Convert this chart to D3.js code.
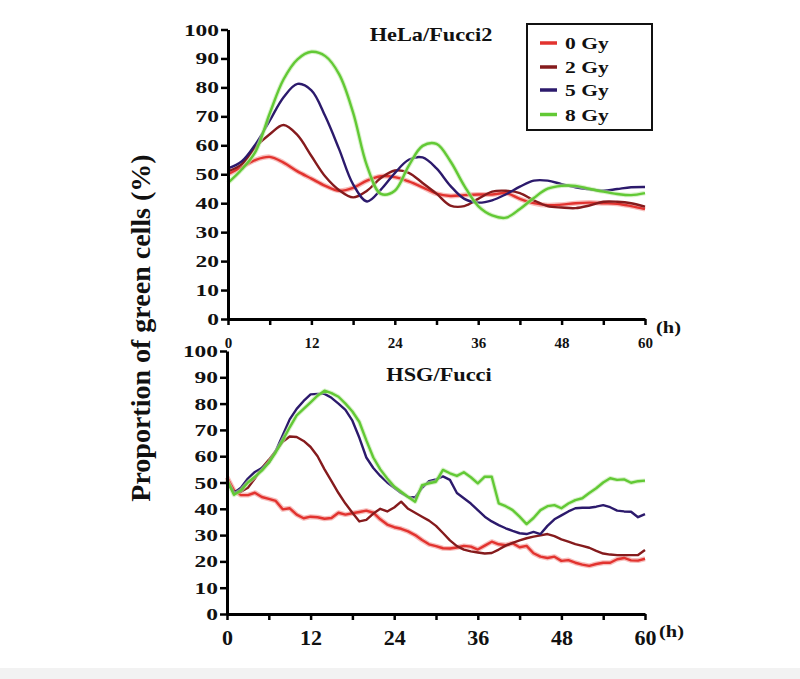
<!DOCTYPE html>
<html><head><meta charset="utf-8">
<script src="https://cdn.jsdelivr.net/npm/d3@7"></script>
<style>
body{margin:0;background:#fff}
svg{display:block}
text{font-family:"Liberation Serif","Times New Roman",serif;font-weight:bold;fill:#111}
</style>
</head><body>
<svg id="c" width="800" height="679"></svg>
<script>
// ---------- data ----------
const seriesNames = ["0 Gy", "2 Gy", "5 Gy", "8 Gy"];
const seriesColors = ["#e2332f", "#851b1d", "#2c1a6c", "#62c935"];
const yTicks = [0, 10, 20, 30, 40, 50, 60, 70, 80, 90, 100];
const xTicks = [0, 6, 12, 18, 24, 30, 36, 42, 48, 54, 60];
const xTickLabels = ["0", "", "12", "", "24", "", "36", "", "48", "", "60"];

// HeLa/Fucci2 (every 2 h)
const hoursTop = [0,2,4,6,8,10,12,14,16,18,20,22,24,26,28,30,32,34,36,38,40,42,44,46,48,50,52,54,56,58,60];
const helaGy0 = [50,52.5,55,56,54,51,48.5,46,44.3,45.3,47.8,49.3,49,47.5,45.5,43.3,42.5,42.8,43,43,43.5,41.5,40,39.3,39.5,40,40.2,40,39.8,39,38];
const helaGy2 = [51,53.5,59.5,63.8,67,63.5,56.3,49.2,44.5,42,44.3,48.7,51.3,50.5,47,43.3,39.2,39,41.5,44,44.3,43.5,41,39,38.5,38.3,39.2,40.5,40.5,40,38.8];
const helaGy5 = [52,54.5,60.5,68.5,76.6,81.2,79,70,58.6,46.5,40.6,44.7,50.4,55,55.8,52,46,41.5,40.2,41,43.1,45.7,47.8,47.8,46.6,45.5,44.8,44.3,44.9,45.5,45.6];
const helaGy8 = [47,51.7,58,71,82.8,89.7,92.3,90.8,84.5,71.3,52.9,43.2,44.3,52.9,59.8,60.5,54.5,46,39,35.8,35,38,41.8,45,46,46,45,44,43.2,42.8,43.5];

// HSG/Fucci (every 1 h)
const hoursBottom = [0,1,2,3,4,5,6,7,8,9,10,11,12,13,14,15,16,17,18,19,20,21,22,23,24,25,26,27,28,29,30,31,32,33,34,35,36,37,38,39,40,41,42,43,44,45,46,47,48,49,50,51,52,53,54,55,56,57,58,59,60];
const hsgGy0 = [52,47,45.2,45.2,46.1,44.5,43.8,43,39.8,40.2,
                37.8,36.4,37,36.8,36.2,36.5,38.5,37.8,38.3,38.8,
                39.3,38.5,36,34,33,32.4,31.4,30,28.1,26.5,
                25.8,25,24.9,25.3,25.9,25.6,24.5,26,27.5,26.5,
                26.2,26.9,25.4,25.9,23.1,21.8,21.3,21.8,20.2,20.5,
                19.5,18.8,18.3,19,19.5,19.5,20.8,21.3,20.4,20.3,
                21];
const hsgGy2 = [50,46.5,46.5,48,51.5,55.5,58.6,62,65.5,67.5,
                67.3,65.8,63.5,60,55,50.5,46,42,38.5,35.2,
                35.8,38.2,40,39,40.5,42.7,40,38.5,37,35.5,
                33.5,30.8,28,25.8,24.5,23.8,23.4,23,23.2,24.5,
                26,27,28,28.8,29.4,29.9,30.4,29.6,28.4,27.5,
                26.6,25.9,25.2,24,23,22.6,22.4,22.4,22.4,22.4,
                24.3];
const hsgGy5 = [50.4,46,48,51.5,54,55.5,57.5,62,68,74,
                78,81,83.5,83.7,83.7,82.2,80,77.6,73.5,67,
                59.5,55.5,52.5,50,48,46,44.5,44.3,48,50.5,
                51.2,52.3,51,46,44,42,39.5,37,35.2,33.8,
                32.6,31.6,30.7,30.4,31.2,30.4,33.5,36,37.5,39,
                40.2,40.4,40.4,40.8,41.4,40.6,39.3,39,38.9,36.8,
                38];
const hsgGy8 = [51,45.3,47,50,52.2,54.5,57.5,61.5,66,71,
                75.5,78,80.5,83,84.9,84,82.6,80,77,73,
                66,59.5,55,51.5,48.5,46.5,44.5,42.7,49,49.7,
                50.3,54.8,53.5,52.5,53.9,52,49.7,52.2,52.2,42.1,
                41,39.5,37,34.2,36.5,39.5,41,41.4,40.2,42,
                43.3,44,46,47.8,50,51.6,51,51.2,49.9,50.5,
                50.7];

// ---------- drawing ----------
const svg = d3.select("#c");
svg.append("rect").attr("x",0).attr("y",0).attr("width",800).attr("height",679).attr("fill","#fff");
svg.append("rect").attr("x",0).attr("y",668).attr("width",800).attr("height",11).attr("fill","#f2f2f2");

const panels = [
  {title:"HeLa/Fucci2", hours:hoursTop, series:[helaGy0,helaGy2,helaGy5,helaGy8],
   xr:[228,645], yr:[319,29.5], titleX:431, titleY:41, xFont:15, xBase:348, hX:656, hY:333,
   curve:d3.curveCatmullRom.alpha(0.5)},
  {title:"HSG/Fucci", hours:hoursBottom, series:[hsgGy0,hsgGy2,hsgGy5,hsgGy8],
   xr:[227,645], yr:[614,351], titleX:439, titleY:381, xFont:22, xBase:645, hX:659, hY:637,
   curve:d3.curveLinear}
];

panels.forEach(p => {
  const x = d3.scaleLinear().domain([0,60]).range(p.xr);
  const y = d3.scaleLinear().domain([0,100]).range(p.yr);
  const g = svg.append("g");

  // lines
  const line = d3.line().x((d,i)=>x(p.hours[i])).y(d=>y(d)).curve(p.curve);
  p.series.forEach((vals,si) => {
    if (si === 0) {
      g.append("path").attr("d", line(vals)).attr("fill","none")
        .attr("stroke","#f4a3a0").attr("stroke-width",5).attr("stroke-opacity",0.7)
        .attr("stroke-linejoin","round");
    }
    if (si === 3) {
      g.append("path").attr("d", line(vals)).attr("fill","none")
        .attr("stroke","#bfeaa8").attr("stroke-width",4.5).attr("stroke-opacity",0.6)
        .attr("stroke-linejoin","round");
    }
    g.append("path").attr("d", line(vals)).attr("fill","none")
      .attr("stroke", seriesColors[si]).attr("stroke-width", 2.4)
      .attr("stroke-linejoin","round");
  });

  // y axis
  const ya = g.append("g").attr("transform",`translate(${p.xr[0]},0)`)
    .call(d3.axisLeft(y).tickValues(yTicks).tickSize(7).tickSizeOuter(0).tickFormat(d3.format("d")));
  ya.select(".domain").attr("stroke","#000").attr("stroke-width",3);
  ya.selectAll(".tick line").attr("stroke","#000").attr("stroke-width",2.5);
  ya.selectAll(".tick text")
    .attr("x",0).attr("dy",0).attr("y",0)
    .attr("transform","translate(-9,5.5) scale(1.42,1)")
    .style("font-size","16.5px").attr("fill","#111");

  // x axis
  const xa = g.append("g").attr("transform",`translate(0,${p.yr[0]})`)
    .call(d3.axisBottom(x).tickValues(xTicks).tickSize(6).tickSizeOuter(0)
      .tickFormat((d,i)=>xTickLabels[i]));
  xa.select(".domain").attr("stroke","#000").attr("stroke-width",3);
  xa.selectAll(".tick line").attr("stroke","#000").attr("stroke-width",2.5);
  xa.selectAll(".tick text")
    .attr("dy",0).attr("y", p.xBase - p.yr[0])
    .style("font-size", p.xFont + "px").attr("fill","#111");

  // unit label
  g.append("text").attr("transform",`translate(${p.hX},${p.hY}) scale(1.2,1)`)
    .style("font-size","17px").text("(h)");

  // title
  g.append("text").attr("transform",`translate(${p.titleX},${p.titleY}) scale(1.24,1)`)
    .attr("text-anchor","middle").style("font-size","18px").text(p.title);
});

// legend
const lg = svg.append("g");
lg.append("rect").attr("x",527).attr("y",24).attr("width",125).attr("height",106)
  .attr("fill","#fff").attr("stroke","#111").attr("stroke-width",2);
const rowsY = [43, 67, 90, 114.5];
seriesNames.forEach((n,i) => {
  lg.append("line").attr("x1",540).attr("x2",557).attr("y1",rowsY[i]).attr("y2",rowsY[i])
    .attr("stroke",seriesColors[i]).attr("stroke-width",3.5);
  lg.append("text").attr("transform",`translate(565,${rowsY[i]+6}) scale(1.23,1)`)
    .style("font-size","17.5px").text(n);
});

// y axis title
svg.append("text").attr("transform","translate(140,328) rotate(-90)")
  .attr("text-anchor","middle").attr("dominant-baseline","central")
  .style("font-size","28px").text("Proportion of green cells (%)");
</script>
</body></html>
